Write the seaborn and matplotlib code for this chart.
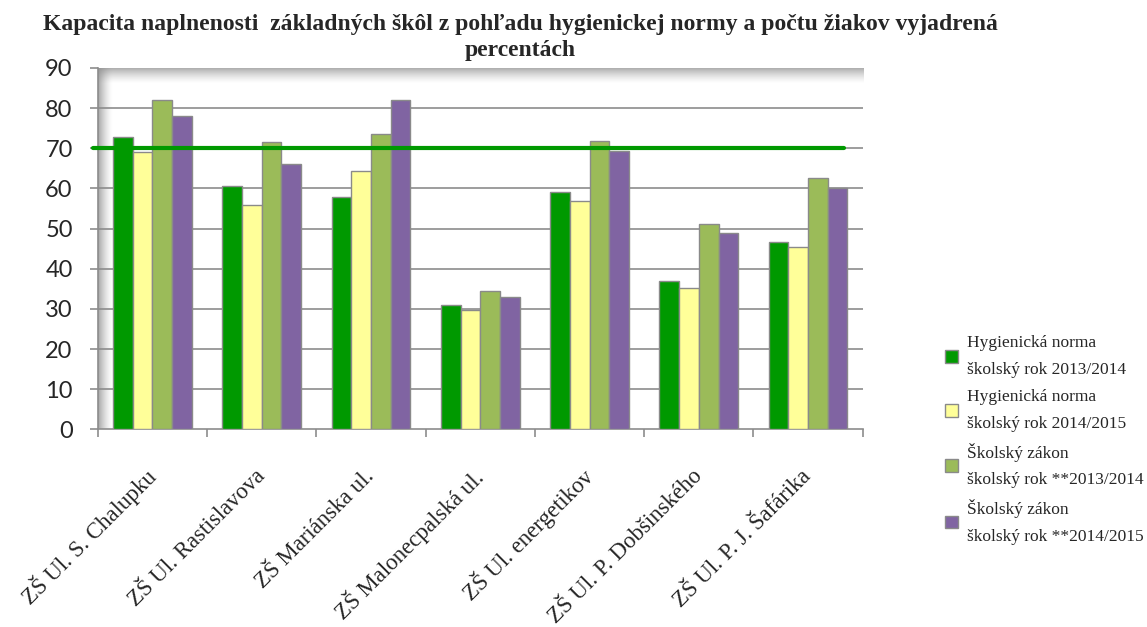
import numpy as np
import pandas as pd
import matplotlib
matplotlib.use("Agg")
import matplotlib.pyplot as plt
import seaborn as sns

# ---- data ----
schools = ["ZŠ Ul. S. Chalupku", "ZŠ Ul. Rastislavova", "ZŠ Mariánska ul.",
           "ZŠ Malonecpalská ul.", "ZŠ Ul. energetikov", "ZŠ Ul. P. Dobšinského",
           "ZŠ Ul. P. J. Šafárika"]
series_names = ["Hygienická norma\nškolský rok 2013/2014",
                "Hygienická norma\nškolský rok 2014/2015",
                "Školský zákon\nškolský rok **2013/2014",
                "Školský zákon\nškolský rok **2014/2015"]
hyg_1314 = [72.7, 60.6, 57.8, 31.0, 59.1, 37.0, 46.7]
hyg_1415 = [69.2, 55.9, 64.4, 29.7, 56.9, 35.1, 45.5]
zak_1314 = [82.0, 71.5, 73.5, 34.5, 71.9, 51.1, 62.6]
zak_1415 = [78.0, 66.0, 82.0, 32.9, 69.4, 48.8, 60.1]
norm_level = 70
y_ticks = list(range(0, 91, 10))
title = ("Kapacita naplnenosti  základných škôl z pohľadu hygienickej normy a počtu žiakov vyjadrená\n"
         "percentách")

colors = ["#009900", "#FFFF99", "#9BBB59", "#8064A2"]

df = pd.DataFrame({
    "school": schools * 4,
    "series": sum([[s] * len(schools) for s in series_names], []),
    "value": hyg_1314 + hyg_1415 + zak_1314 + zak_1415,
})

sns.set_style("white")
plt.rcParams["font.family"] = ["Liberation Serif", "DejaVu Serif"]

fig = plt.figure(figsize=(11.47, 6.27), dpi=100)
ax = fig.add_axes([0.0852, 0.315, 0.667, 0.5766])

sns.barplot(data=df, x="school", y="value", hue="series", order=schools,
            hue_order=series_names, palette=colors, saturation=1, width=0.72,
            edgecolor="#8a8a8a", linewidth=1.0, ax=ax, zorder=3)

# inner shadow of plot area
left_w, top_h = 0.019, 0.045
grad_l = np.zeros((2, 64, 4))
grad_l[..., :3] = 0.55
grad_l[..., 3] = np.linspace(0.85, 0.0, 64)[None, :] ** 1.5
ax.imshow(grad_l, extent=[0, left_w, 0, 1], transform=ax.transAxes,
          aspect="auto", zorder=1, interpolation="bilinear")
grad_t = np.zeros((64, 2, 4))
grad_t[..., :3] = 0.55
grad_t[..., 3] = (np.linspace(0.85, 0.0, 64)[:, None]) ** 1.5
ax.imshow(grad_t, extent=[0, 1, 1 - top_h, 1], transform=ax.transAxes,
          aspect="auto", zorder=1, interpolation="bilinear")

ax.set_xlim(-0.5, len(schools) - 0.5)
ax.set_ylim(0, 90)
ax.set_yticks(y_ticks)
for yv in y_ticks[1:-1]:
    ax.axhline(yv, color="#8c8c8c", lw=1.2, zorder=2)

# norm line
ax.axhline(norm_level, xmin=-0.006, xmax=0.9755, color="#009900", lw=3.0,
           zorder=5, clip_on=False)

for sp in ["top", "right"]:
    ax.spines[sp].set_visible(False)
ax.spines["left"].set_color("#8c8c8c")
ax.spines["bottom"].set_color("#8c8c8c")
ax.spines["left"].set_linewidth(1.2)
ax.spines["bottom"].set_linewidth(1.2)

ax.set_xlabel("")
ax.set_ylabel("")
ax.tick_params(axis="y", which="both", left=True, length=6, width=1.2,
               color="#8c8c8c", pad=12, labelsize=17)
for lab in ax.get_yticklabels():
    lab.set_family(["Lato", "DejaVu Sans"])

ax.set_xticks(np.arange(len(schools)))
ax.set_xticklabels(schools, rotation=45, ha="right", va="center",
                   rotation_mode="anchor", fontsize=16.5)
ax.tick_params(axis="x", which="major", bottom=False, pad=28)
ax.set_xticks(np.arange(len(schools) + 1) - 0.5, minor=True)
ax.tick_params(axis="x", which="minor", bottom=True, length=6, width=1.2,
               color="#8c8c8c")

# legend
handles, labels = ax.get_legend_handles_labels()
ax.get_legend().remove() if ax.get_legend() else None
leg = fig.legend(handles, labels, loc="upper left",
                 bbox_to_anchor=(0.824, 0.465), frameon=False, fontsize=12.5,
                 handlelength=0.75, handleheight=0.75, handletextpad=0.5,
                 labelspacing=0.62, borderpad=0, borderaxespad=0)
for t in leg.get_texts():
    t.set_linespacing(1.9)

fig.text(0.454, 0.978, title, ha="center", va="top", fontsize=17,
         fontweight="bold", linespacing=1.3)

fig.savefig("out.png", dpi=100)
